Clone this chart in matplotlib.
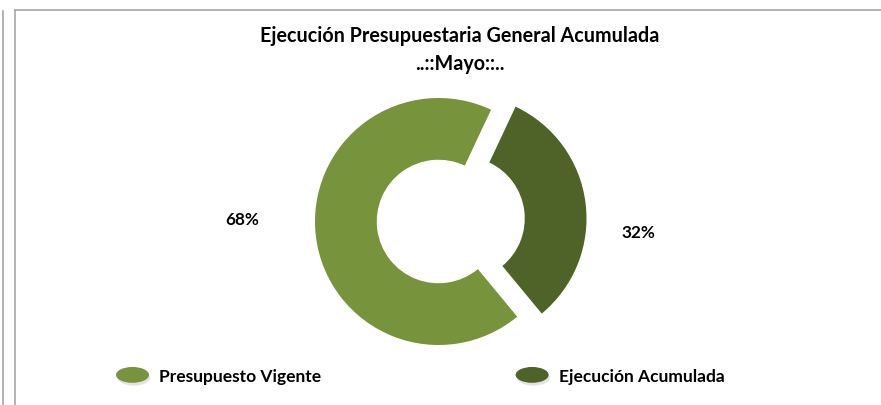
import matplotlib
matplotlib.use("Agg")
import matplotlib.pyplot as plt
from matplotlib.patches import Ellipse
from matplotlib.legend_handler import HandlerPatch
from matplotlib.lines import Line2D

# Datos del grafico
categorias = ["Presupuesto Vigente", "Ejecución Acumulada"]
porcentajes = [68, 32]
colores = ["#77933C", "#4F6228"]
separacion = [0.0, 0.2]
titulo = "Ejecución Presupuestaria General Acumulada\n..::Mayo::.."

plt.rcParams["font.family"] = ["Lato", "DejaVu Sans"]

W, H = 881, 405
cx, cy, r = 438.5, 221.5, 123.5   # centro y radio del anillo en pixeles

fig = plt.figure(figsize=(W / 100, H / 100), dpi=100)
ax = fig.add_axes([0, 0, 1, 1])

wedges, _ = ax.pie(porcentajes, colors=colores, explode=separacion,
                   startangle=64.8, counterclock=True, radius=1.0,
                   wedgeprops=dict(width=0.5, linewidth=0))

ax.set_xlim(-cx / r, (W - cx) / r)
ax.set_ylim(-(H - cy) / r, cy / r)
ax.set_aspect("auto")
ax.axis("off")

# etiquetas de porcentaje
pos_etiquetas = [(-1.591, 0.012), (1.615, -0.093)]
for p, (x, y) in zip(porcentajes, pos_etiquetas):
    ax.text(x, y, "%d%%" % p, ha="center", va="center",
            fontsize=12.3, fontweight="bold", color="black")

fig.text(0.522, 1 - 50 / H, titulo, ha="center", va="center",
         fontsize=14.2, fontweight="bold", linespacing=1.45)


class HandlerElipse(HandlerPatch):
    def create_artists(self, legend, orig_handle, xdescent, ydescent,
                       width, height, fontsize, trans):
        sombra = Ellipse((width / 2 + 1, height / 2 - 2), width, height * 1.1,
                         facecolor="#C8C8C8", edgecolor="none", alpha=0.5,
                         transform=trans)
        e = Ellipse((width / 2, height / 2), width, height * 1.1,
                    facecolor=orig_handle.get_facecolor(), edgecolor="none",
                    transform=trans)
        return [sombra, e]


leg = fig.legend(wedges, categorias, loc="center left", ncol=2,
                 bbox_to_anchor=(116 / W, 1 - 377 / H), frameon=False,
                 borderpad=0, borderaxespad=0,
                 handler_map={w: HandlerElipse() for w in wedges},
                 handlelength=1.9, handleheight=0.9, handletextpad=0.58,
                 columnspacing=11.2,
                 prop=dict(weight="bold", size=12.5))

# bordes del marco
gris = "#A6A6A6"
fig.add_artist(Line2D([15 / W, 1], [1 - 9.5 / H, 1 - 9.5 / H], color=gris, lw=1.2))
fig.add_artist(Line2D([15 / W, 15 / W], [0, 1 - 9.5 / H], color=gris, lw=1.2))
fig.add_artist(Line2D([3 / W, 3 / W], [0, 1 - 10.5 / H], color=gris, lw=1.2))

fig.savefig("out.png", dpi=100, facecolor="white")
